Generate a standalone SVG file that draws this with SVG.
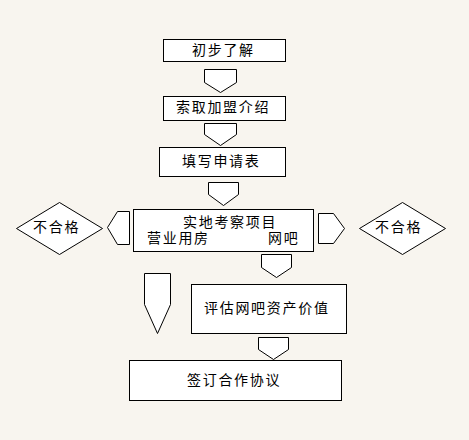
<svg xmlns="http://www.w3.org/2000/svg" width="469" height="440" viewBox="0 0 469 440">
<style>
.b{fill:#fff;stroke:#000;stroke-width:1}
.t{font-family:"Noto Sans CJK SC","Noto Sans",sans-serif;font-size:14px;letter-spacing:1.7px;fill:#000}
</style>
<rect width="469" height="440" fill="#f8f5ef"/>
<g id="connectors">
<path class="b" d="M204.5 69.5H236.5V82.5L220.5 92.5L204.5 82.5Z"/>
<path class="b" d="M204.5 123.5H236.5V134.5L220.5 145.5L204.5 134.5Z"/>
<path class="b" d="M208.5 182.5H238.5V194.5L223.5 205.5L208.5 194.5Z"/>
<path class="b" d="M129.5 211.5H117.5L107.5 227.5L117.5 244.5H129.5Z"/>
<path class="b" d="M318.5 213.5H333.5L344.5 228.5L333.5 243.5H318.5Z"/>
<path class="b" d="M261.5 254.5H291.5V267.5L276.5 277.5L261.5 267.5Z"/>
<path class="b" d="M144.5 273.5H170.5V304.5L157.5 333.5L144.5 304.5Z"/>
<path class="b" d="M258.5 337.5H288.5V349.5L273.5 359.5L258.5 349.5Z"/>
</g>
<g id="n1"><rect class="b" x="163.5" y="39.5" width="122" height="22"/><text class="t" x="192" y="55">初步了解</text></g>
<g id="n2"><rect class="b" x="163.5" y="96.5" width="122" height="24"/><text class="t" x="176" y="112">索取加盟介绍</text></g>
<g id="n3"><rect class="b" x="159.5" y="147.5" width="126" height="29"/><text class="t" x="182" y="166">填写申请表</text></g>
<g id="n4"><rect class="b" x="133.5" y="209.5" width="180" height="42"/><text class="t" x="183" y="227">实地考察项目</text><text class="t" x="147" y="243">营业用房</text><text class="t" x="268" y="243">网吧</text></g>
<g id="n5"><path class="b" d="M16.5 228.5L59.5 202.5L102.5 228.5L59.5 254.5Z"/><text class="t" x="33" y="232">不合格</text></g>
<g id="n6"><path class="b" d="M359.5 228.5L402.5 202.5L445.5 228.5L402.5 254.5Z"/><text class="t" x="375" y="232">不合格</text></g>
<g id="n7"><rect class="b" x="191.5" y="284.5" width="155" height="49"/><text class="t" x="204" y="313">评估网吧资产价值</text></g>
<g id="n8"><rect class="b" x="129.5" y="360.5" width="212" height="40"/><text class="t" x="187" y="385">签订合作协议</text></g>
</svg>
